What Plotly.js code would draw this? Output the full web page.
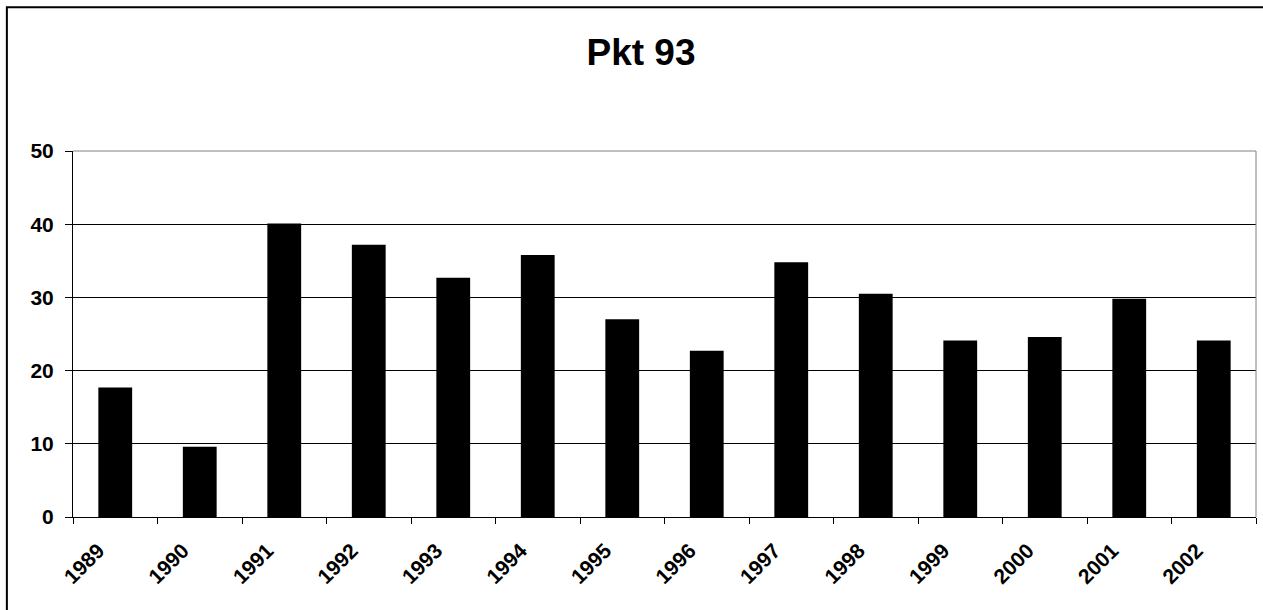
<!DOCTYPE html>
<html>
<head>
<meta charset="utf-8">
<script src="https://cdn.plot.ly/plotly-3.0.1.min.js"></script>
<style>
html,body{margin:0;padding:0;background:#fff;}
#chart{width:1263px;height:610px;}
</style>
</head>
<body>
<div id="chart"></div>
<script>
const years = ["1989","1990","1991","1992","1993","1994","1995","1996","1997","1998","1999","2000","2001","2002"];
const values = [17.7, 9.6, 40.1, 37.2, 32.7, 35.8, 27.0, 22.7, 34.8, 30.5, 24.1, 24.6, 29.8, 24.1];
const titleText = "Pkt 93";

const data = [{
  type: "bar",
  x: years,
  y: values,
  width: 0.4,
  marker: {color: "#000000", line: {width: 0}},
  hoverinfo: "x+y"
}];

const layout = {
  width: 1263,
  height: 610,
  margin: {l: 73, r: 7, t: 151, b: 93, pad: 0},
  paper_bgcolor: "#ffffff",
  plot_bgcolor: "#ffffff",
  showlegend: false,
  font: {family: "Arial, 'Liberation Sans', sans-serif", color: "#000"},
  title: {
    text: "<b>" + titleText + "</b>",
    font: {size: 37, family: "Arial, 'Liberation Sans', sans-serif", color: "#000"},
    xref: "container", yref: "container",
    x: 0.5075, y: 0.915, xanchor: "center", yanchor: "middle"
  },
  xaxis: {
    type: "category",
    tickson: "boundaries",
    ticks: "outside",
    ticklen: 6,
    tickwidth: 1,
    tickcolor: "#000",
    tickangle: -45,
    ticklabelstandoff: 12,
    ticklabelshift: -17,
    tickfont: {size: 21, family: "Arial, 'Liberation Sans', sans-serif", color: "#000", weight: "bold"},
    showline: true,
    linecolor: "#000",
    linewidth: 1,
    showgrid: false,
    zeroline: false,
    fixedrange: true
  },
  yaxis: {
    range: [0, 50],
    tickvals: [0, 10, 20, 30, 40, 50],
    ticks: "outside",
    ticklen: 7,
    tickwidth: 1,
    tickcolor: "#000",
    ticklabelstandoff: 7,
    tickfont: {size: 21, family: "Arial, 'Liberation Sans', sans-serif", color: "#000", weight: "bold"},
    showline: true,
    linecolor: "#000",
    linewidth: 1,
    showgrid: true,
    gridcolor: "#000",
    gridwidth: 1,
    zeroline: false,
    fixedrange: true
  },
  shapes: [
    {type: "line", xref: "paper", yref: "paper", x0: 0, x1: 1, y0: 1, y1: 1, line: {color: "#808080", width: 1}, layer: "above"},
    {type: "line", xref: "paper", yref: "paper", x0: 1, x1: 1, y0: 0, y1: 1, line: {color: "#808080", width: 1}, layer: "above"},
    {type: "rect", xref: "paper", yref: "paper", x0: -0.0559, x1: 1.05, y0: -0.3, y1: 1.393, line: {color: "#000", width: 2}, fillcolor: "rgba(0,0,0,0)", layer: "below"}
  ]
};

Plotly.newPlot("chart", data, layout, {displayModeBar: false, staticPlot: true});
</script>
</body>
</html>
